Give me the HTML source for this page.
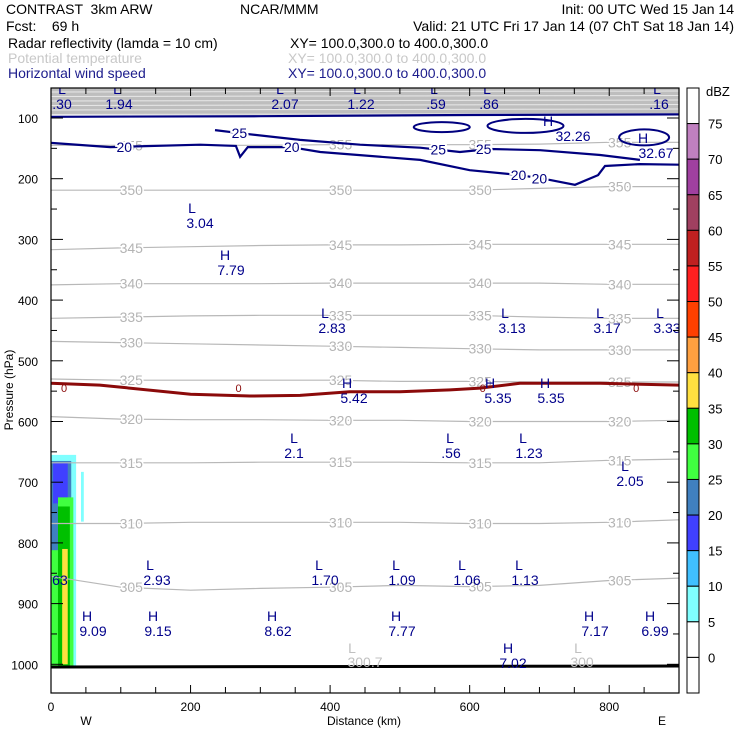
<!DOCTYPE html>
<html><head><meta charset="utf-8"><style>
body{margin:0;background:#fff;}
svg{display:block;font-family:"Liberation Sans",sans-serif;}
text{white-space:pre;}
</style></head><body>
<svg id="chart" width="740" height="740" viewBox="0 0 740 740" xmlns="http://www.w3.org/2000/svg">
<g font-size="14">
<text x="6" y="14">CONTRAST  3km ARW</text>
<text x="240" y="14">NCAR/MMM</text>
<text x="734" y="14" text-anchor="end">Init: 00 UTC Wed 15 Jan 14</text>
<text x="6" y="31">Fcst:    69 h</text>
<text x="734" y="31" text-anchor="end">Valid: 21 UTC Fri 17 Jan 14 (07 ChT Sat 18 Jan 14)</text>
<text x="8" y="48">Radar reflectivity (lamda = 10 cm)</text>
<text x="290" y="48">XY= 100.0,300.0 to 400.0,300.0</text>
<text x="8" y="63" fill="#c8c8c8">Potential temperature</text>
<text x="288" y="63" fill="#c8c8c8">XY= 100.0,300.0 to 400.0,300.0</text>
<text x="8" y="78" fill="#1c1c8c">Horizontal wind speed</text>
<text x="288" y="78" fill="#1c1c8c">XY= 100.0,300.0 to 400.0,300.0</text>
</g>
<g id="plot"></g>
</svg>
<script>
const NS="http://www.w3.org/2000/svg";
// data
const thetaKm=[0,100,200,300,400,500,600,700,800,900];
const thetaLevels=[355,350,345,340,335,330,325,320,315,310,305];
const theta355=[145,145,145,145,144,144,144,143,140,140];
const theta350=[219,219,219,219,219,219,219,216,213,213];
const theta345=[317,314,312,310,309,309,308,308,308,308];
const theta340=[375,373,373,373,372,372,372,372,374,374];
const theta335=[430,428,426,425,425,425,425,428,430,430];
const theta330=[468,470,472,474,476,478,480,482,482,482];
const theta325=[530,532,532,532,532,534,534,535,535,535];
const theta320=[592,596,597,597,598,598,600,600,600,598];
const theta315=[668,668,668,667,667,667,668,668,664,662];
const theta310=[768,768,766,766,766,766,768,768,766,762];
const theta305=[855,873,878,875,873,870,872,870,862,858];
const thetaSeries=[theta355,theta350,theta345,theta340,theta335,theta330,theta325,theta320,theta315,theta310,theta305];
const wind20Km=[0,85,214,265,271,282,343,386,529,600,672,715,751,784,794,844,900];
const wind20P=[141,148,144,146,164,148,148,156,169,186,194,202,210,194,179,176,177];
const wind25Km=[235,271,357,443,529,586,629,701,787,844];
const wind25P=[120,125,136,144,149,156,151,153,161,169];
const windTopKm=[0,300,600,900];
const windTopP=[98,97,95,94];
const zeroKm=[0,70,200,285,357,428,500,572,615,672,787,900];
const zeroP=[537,540,555,558,557,551,551,548,545,537,537,540];
const dbzLevels=[75,70,65,60,55,50,45,40,35,30,25,20,15,10,5,0];
const dbzColors=["#ffffff","#c080c0","#a040a0","#a04060","#c02020","#ff2020","#ff4000","#ffa040","#ffe040","#00c000","#40ff40","#4080c0","#4040ff","#40c0ff","#80ffff","#ffffff","#ffffff"];
const xTicks=[0,200,400,600,800];
const pTicks=[100,200,300,400,500,600,700,800,900,1000];
// reflectivity cells
const reflKm0=[0,0,3,10,0,10,16,43];
const reflKm1=[36,29,24,32,32,27,24,47];
const reflP0=[655,665,668,725,812,740,810,683];
const reflP1=[1005,910,735,1005,1005,1005,1000,765];
const reflC=[14,11,12,10,10,9,8,14];

const X=km=>51+km*628/900;
const Y=p=>118+(p-100)*0.607;
const plot=document.getElementById('plot');
function el(tag,attrs,parent){const e=document.createElementNS(NS,tag);for(const k in attrs)e.setAttribute(k,attrs[k]);(parent||plot).appendChild(e);return e;}
function pts(ks,ps){return ks.map((k,i)=>X(k).toFixed(1)+","+Y(ps[i]).toFixed(1)).join(" ");}

const defs=el('defs',{});
const cp=el('clipPath',{id:'clip'},defs);
el('rect',{x:51,y:88,width:628,height:605},cp);
const g=el('g',{'clip-path':'url(#clip)'});

const band=el('rect',{x:51,y:88,width:628,height:Y(95)-88,fill:'#bebebe'},g);


for(let i=0;i<6;i++){const l=el('line',{x1:51,x2:679,y1:92+i*4.5,y2:91+i*4.5,stroke:'#e8e8e8','stroke-width':1},g);

}

reflKm0.forEach((k,i)=>{const r=el('rect',{x:X(k),y:Y(reflP0[i]),width:X(reflKm1[i])-X(k),height:Y(reflP1[i])-Y(reflP0[i]),fill:dbzColors[reflC[i]]},g);

});

thetaSeries.forEach((s,i)=>{const l=el('polyline',{points:pts(thetaKm,s),fill:'none',stroke:'#b8b8b8','stroke-width':1.2},g);

});
thetaSeries.forEach((s,i)=>{[1,4,6,8].forEach(j=>{const t=el('text',{x:X(thetaKm[j]+15),y:Y(s[j])+5,fill:'#b4b4b4','font-size':14,'text-anchor':'middle',stroke:'#fff','stroke-width':3,'paint-order':'stroke'},g);t.textContent=thetaLevels[i];

});});

[[windTopKm,windTopP],[wind25Km,wind25P],[wind20Km,wind20P]].forEach((w,i)=>{const l=el('polyline',{points:pts(w[0],w[1]),fill:'none',stroke:'#00007f','stroke-width':2.2},g);

});
const ell=[[560,115,28,5],[680,113,38,7],[850,132,25,8]];
ell.forEach(e=>{const o=el('ellipse',{cx:X(e[0]),cy:Y(e[1]),rx:e[2],ry:e[3],fill:'none',stroke:'#00007f','stroke-width':2},g);

});
[["20",X(105),Y(148)],["20",X(345),Y(148)],["20",X(670),Y(194)],["20",X(700),Y(200)],["25",X(270),Y(125)],["25",X(555),Y(152)],["25",X(620),Y(151)]].forEach(a=>{const t=el('text',{x:a[1],y:a[2]+5,fill:'#00007f','font-size':14,'text-anchor':'middle',stroke:'#fff','stroke-width':4,'paint-order':'stroke'},g);t.textContent=a[0];

});

const z=el('polyline',{points:pts(zeroKm,zeroP),fill:'none',stroke:'#8b0a0a','stroke-width':3},g);


[0,250,600,820].forEach(k=>{const t=el('text',{x:X(k)+10,y:Y(545)+4,fill:'#8b0a0a','font-size':11},g);t.textContent='0';

});

const gr=el('line',{x1:51,x2:679,y1:667,y2:666,stroke:'#000','stroke-width':3},g);



const hl=[["L",".30",62,62],["L","1.94",117,119],["L","2.07",280,285],["L","1.22",357,361],["L",".59",434,436],["L",".86",487,489],["L",".16",657,659]];
hl.forEach(a=>{let t=el('text',{x:a[2],y:94,fill:'#00008b','font-size':14,'text-anchor':'middle'},g);t.textContent=a[0];


t=el('text',{x:a[3],y:109,fill:'#00008b','font-size':14,'text-anchor':'middle'},g);t.textContent=a[1];

});
const lab=[["",'3.04',200,"L",192,213],["H","32.26",573,"H",548,126],["H","32.67",656,"H",643,143],["H","7.79",231,"H",225,260],["L","2.83",332,"L",325,318],["L","3.13",512,"L",505,318],["L","3.17",607,"L",600,318],["L","3.33",667,"L",660,318],["H","5.42",354,"H",347,388],["H","5.35",498,"H",490,388],["H","5.35",551,"H",545,388],["L","2.1",294,"L",294,443],["L",".56",451,"L",450,443],["L","1.23",529,"L",523,443],["L","2.05",630,"L",625,471],["L","2.93",157,"L",150,570],["L","1.70",325,"L",319,570],["L","1.09",402,"L",396,570],["L","1.06",467,"L",462,570],["L","1.13",525,"L",519,570],["H","9.09",93,"H",87,621],["H","9.15",158,"H",153,621],["H","8.62",278,"H",272,621],["H","7.77",402,"H",396,621],["H","7.17",595,"H",589,621],["H","6.99",655,"H",650,621],["H","7.02",513,"H",508,653]];
lab.forEach(a=>{let t=el('text',{x:a[4],y:a[5],fill:'#00008b','font-size':14,'text-anchor':'middle'},g);t.textContent=a[3];


t=el('text',{x:a[2],y:a[5]+15,fill:'#00008b','font-size':14,'text-anchor':'middle'},g);t.textContent=a[1];

});
[["L","300.7",352,365,653],["L","300",578,582,653]].forEach(a=>{let t=el('text',{x:a[2],y:a[4],fill:'#c0c0c0','font-size':14,'text-anchor':'middle'},g);t.textContent=a[0];


t=el('text',{x:a[3],y:a[4]+14,fill:'#c0c0c0','font-size':14,'text-anchor':'middle'},g);t.textContent=a[1];

});
let t63=el('text',{x:58,y:585,fill:'#00008b','font-size':14,'text-anchor':'middle'},g);t63.textContent='.63';



const fr=el('rect',{x:51,y:88,width:628,height:605,fill:'none',stroke:'#000','stroke-width':1.2});


for(let k=0;k<=900;k+=50){const L=k%200===0?8:6;
const a=el('line',{x1:X(k),x2:X(k),y1:693,y2:693-L,stroke:'#000'});
const b=el('line',{x1:X(k),x2:X(k),y1:88,y2:88+L,stroke:'#000'});}
for(let p=100;p<=1000;p+=50){const L=p%100===0?12:6;
const a=el('line',{x1:51,x2:51+L,y1:Y(p),y2:Y(p),stroke:'#000'});
const b=el('line',{x1:679,x2:679-L,y1:Y(p),y2:Y(p),stroke:'#000'});}
xTicks.forEach(k=>{const t=el('text',{x:X(k),y:711,'font-size':12,'text-anchor':'middle'});t.textContent=k;

});
pTicks.forEach(p=>{const t=el('text',{x:38,y:Y(p)+5,'font-size':12,'text-anchor':'end'});t.textContent=p;

});
let tt=el('text',{x:364,y:725,'font-size':12,'text-anchor':'middle'});tt.textContent='Distance (km)';


tt=el('text',{x:86,y:725,'font-size':12,'text-anchor':'middle'});tt.textContent='W';


tt=el('text',{x:662,y:725,'font-size':12,'text-anchor':'middle'});tt.textContent='E';


tt=el('text',{x:0,y:0,'font-size':12,'text-anchor':'middle',transform:'translate(13,390) rotate(-90)'});tt.textContent='Pressure (hPa)';



const cb0=88,cbH=605/17;
dbzColors.forEach((c,i)=>{const r=el('rect',{x:687,y:cb0+i*cbH,width:12,height:cbH,fill:c,stroke:'#000','stroke-width':1});

});
dbzLevels.forEach((v,i)=>{const t=el('text',{x:708,y:cb0+(i+1)*cbH+5,'font-size':13});t.textContent=v;

});
tt=el('text',{x:706,y:96,'font-size':13});tt.textContent='dBZ';


</script>
</body></html>
